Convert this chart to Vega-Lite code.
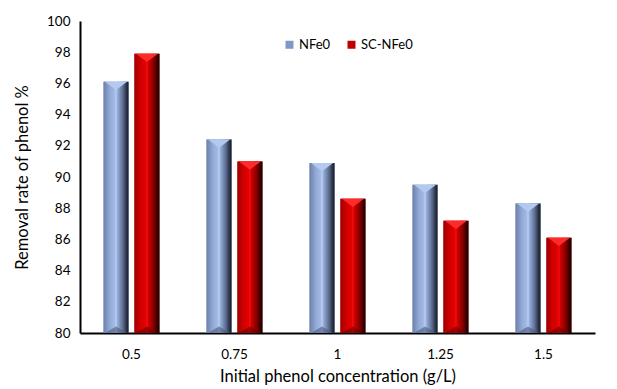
{
  "$schema": "https://vega.github.io/schema/vega-lite/v6.json",
  "autosize": "none",
  "width": 515,
  "height": 312,
  "padding": {"left": 80, "top": 21, "right": 22, "bottom": 56},
  "background": "white",
  "config": {
    "view": {"stroke": null},
    "font": "Lato",
    "axis": {"labelFont": "Lato", "titleFont": "Lato", "labelColor": "#000", "titleColor": "#000", "titleFontWeight": "normal"}
  },
  "data": {
    "values": [
      {"conc": "0.5", "series": "NFe0", "removal": 96.1},
      {"conc": "0.5", "series": "SC-NFe0", "removal": 97.9},
      {"conc": "0.75", "series": "NFe0", "removal": 92.4},
      {"conc": "0.75", "series": "SC-NFe0", "removal": 91.0},
      {"conc": "1", "series": "NFe0", "removal": 90.9},
      {"conc": "1", "series": "SC-NFe0", "removal": 88.6},
      {"conc": "1.25", "series": "NFe0", "removal": 89.5},
      {"conc": "1.25", "series": "SC-NFe0", "removal": 87.2},
      {"conc": "1.5", "series": "NFe0", "removal": 88.3},
      {"conc": "1.5", "series": "SC-NFe0", "removal": 86.1}
    ]
  },
  "encoding": {
    "x": {
      "field": "conc", "type": "nominal", "sort": null,
      "scale": {"paddingInner": 0.4, "paddingOuter": 0.2},
      "axis": {
        "title": "Initial phenol concentration (g/L)", "titleFontSize": 16.5, "titlePadding": 8,
        "labelAngle": 0, "labelFontSize": 13.5, "labelPadding": 14,
        "ticks": false, "domainColor": "#000", "domainWidth": 2
      }
    },
    "xOffset": {"field": "series", "type": "nominal", "scale": {"domain": ["NFe0", "SC-NFe0"]}},
    "y": {
      "field": "removal", "type": "quantitative",
      "scale": {"domain": [80, 100], "zero": false, "clamp": true},
      "axis": {
        "title": "Removal rate of phenol %", "titleFontSize": 16.5, "titlePadding": 16,
        "values": [80, 82, 84, 86, 88, 90, 92, 94, 96, 98, 100],
        "labelFontSize": 13.5, "labelPadding": 10, "grid": false, "ticks": false,
        "domainColor": "#000", "domainWidth": 2
      }
    }
  },
  "layer": [
    {
      "mark": {"type": "bar", "width": 25},
      "encoding": {
        "color": {
          "field": "series", "type": "nominal",
          "scale": {"domain": ["NFe0", "SC-NFe0"], "range": ["#7f98c8", "#c00000"]},
          "legend": {
            "title": null, "orient": "none", "direction": "horizontal",
            "legendX": 203, "legendY": 17, "symbolType": "square", "symbolSize": 64,
            "labelFontSize": 13, "labelFont": "Lato", "columnPadding": 14, "symbolOffset": 0, "labelOffset": 3
          }
        }
      }
    },
    {
      "mark": {"type": "bar", "width": 25},
      "encoding": {
        "color": {
          "condition": {
            "test": "datum.series == 'NFe0'",
            "value": {
              "gradient": "linear", "x1": 0, "y1": 0, "x2": 1, "y2": 0,
              "stops": [
                {"offset": 0, "color": "#6c80a8"},
                {"offset": 0.25, "color": "#92a9d6"},
                {"offset": 0.45, "color": "#a4bbe6"},
                {"offset": 0.5, "color": "#bcd0f4"},
                {"offset": 0.55, "color": "#98afdc"},
                {"offset": 0.78, "color": "#5a6a8c"},
                {"offset": 0.92, "color": "#2a3346"},
                {"offset": 1, "color": "#151a24"}
              ]
            }
          },
          "value": {
            "gradient": "linear", "x1": 0, "y1": 0, "x2": 1, "y2": 0,
            "stops": [
              {"offset": 0, "color": "#a00000"},
              {"offset": 0.25, "color": "#d00000"},
              {"offset": 0.45, "color": "#e40000"},
              {"offset": 0.5, "color": "#f21010"},
              {"offset": 0.55, "color": "#d00000"},
              {"offset": 0.78, "color": "#800000"},
              {"offset": 0.92, "color": "#380000"},
              {"offset": 1, "color": "#150000"}
            ]
          }
        }
      }
    },
    {
      "mark": {"type": "point", "filled": true, "shape": "M-1,0 L1,0 L0,0.75 Z", "size": 484, "opacity": 1, "strokeWidth": 0},
      "encoding": {
        "color": {
          "condition": {"test": "datum.series == 'NFe0'", "value": "#b4c9f0"},
          "value": "#ff2a2a"
        }
      }
    },
    {
      "mark": {"type": "point", "filled": true, "shape": "M-1,0 L1,0 L0,-0.6 Z", "size": 484, "opacity": 0.6, "strokeWidth": 0},
      "encoding": {
        "y": {"datum": 80, "type": "quantitative"},
        "color": {
          "condition": {"test": "datum.series == 'NFe0'", "value": "#4a5878"},
          "value": "#6a0000"
        }
      }
    }
  ]
}
